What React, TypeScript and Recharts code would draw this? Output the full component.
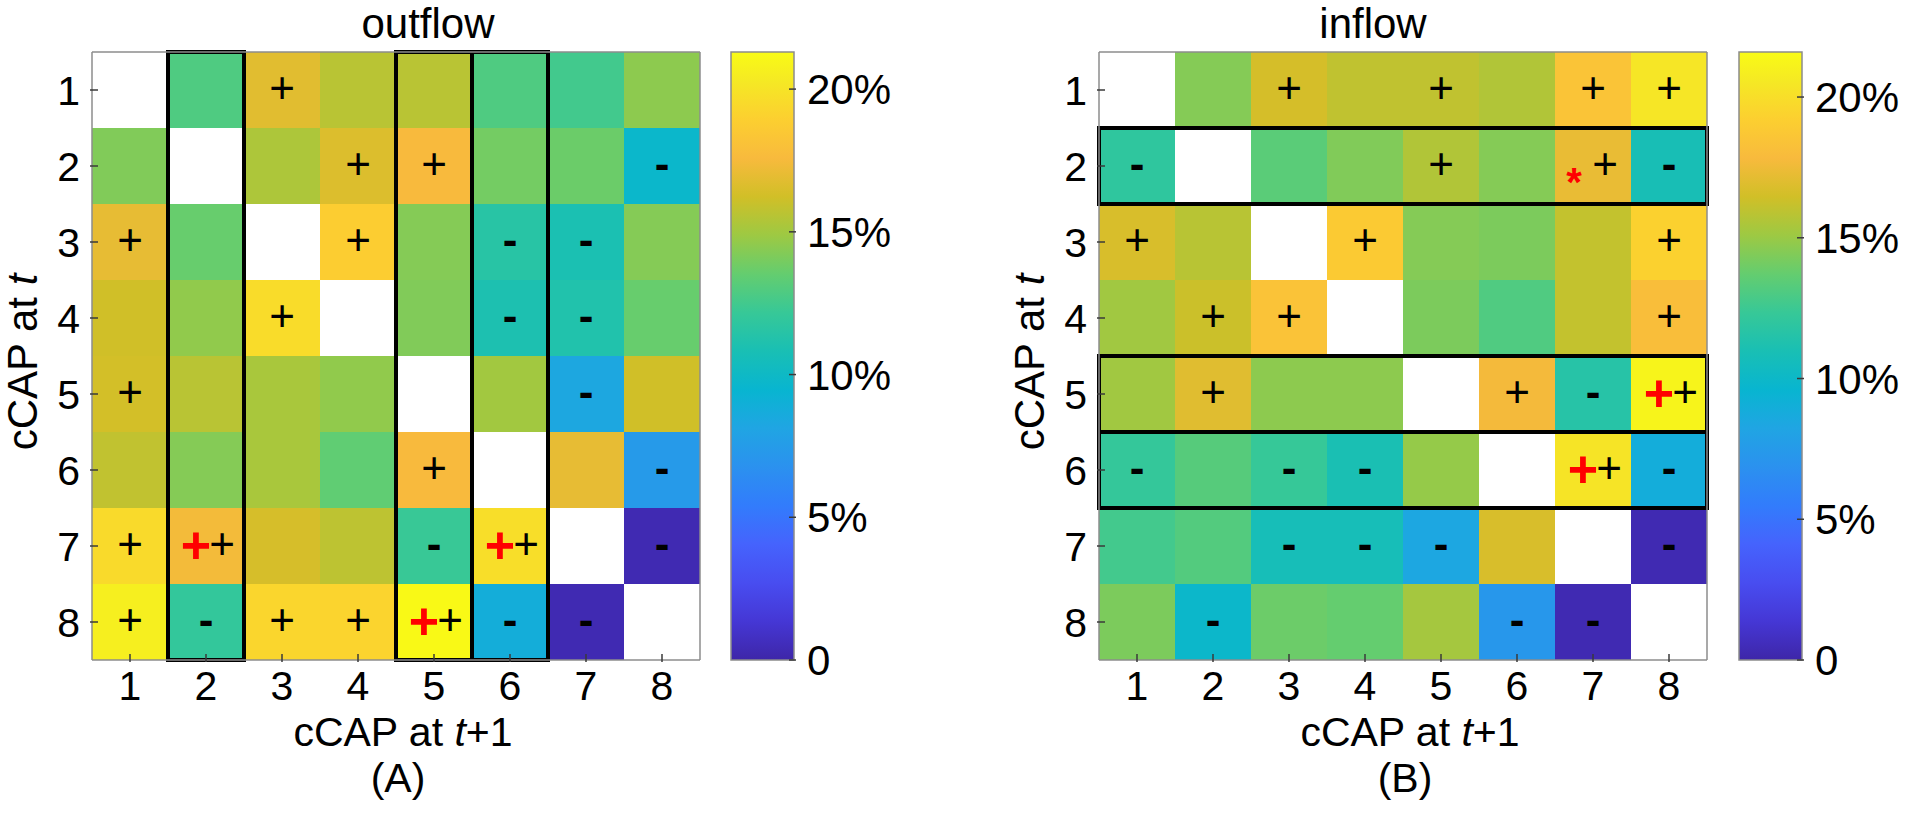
import React from "react";
import { ScatterChart, Scatter, BarChart, Bar, XAxis, YAxis, ReferenceArea, Label } from "recharts";

const cats = [1, 2, 3, 4, 5, 6, 7, 8];
const cbTicks = [0, 5, 10, 15, 20];

// outflow (%), rows = cCAP at t, cols = cCAP at t+1, diagonal left empty
const outflowValues = [
  [null, 12.9, 16.8, 15.6, 15.6, 12.9, 12.5, 14.5],
  [14.2, null, 15.3, 16.6, 17.6, 13.9, 13.7, 9.7],
  [17.0, 13.6, null, 18.8, 14.3, 11.5, 10.9, 14.3],
  [16.2, 14.6, 19.6, null, 14.2, 11.0, 11.2, 13.6],
  [16.3, 15.6, 15.2, 14.6, null, 15.0, 8.3, 16.2],
  [15.8, 14.3, 15.2, 13.4, 17.6, null, 17.0, 7.4],
  [19.5, 17.4, 16.4, 15.7, 12.2, 19.7, null, 0.3],
  [20.6, 12.0, 19.3, 19.2, 21.2, 8.8, 0.3, null],
];
// "+" / "-" significance, "R" = red + with black +, "S" = red * with black +
const outflowMarks = [
  ["", "", "+", "", "", "", "", ""],
  ["", "", "", "+", "+", "", "", "-"],
  ["+", "", "", "+", "", "-", "-", ""],
  ["", "", "+", "", "", "-", "-", ""],
  ["+", "", "", "", "", "", "-", ""],
  ["", "", "", "", "+", "", "", "-"],
  ["+", "R", "", "", "-", "R", "", "-"],
  ["+", "-", "+", "+", "R", "-", "-", ""],
];
const outflowBoxCols = [2, 5, 6];
const outflowMax = 21.3;

const inflowValues = [
  [null, 14.5, 16.6, 16.0, 16.0, 15.6, 18.5, 20.4],
  [12.0, null, 13.4, 14.4, 15.6, 14.5, 17.3, 10.9],
  [16.7, 15.8, null, 18.9, 14.5, 14.3, 16.1, 19.3],
  [15.2, 16.3, 18.4, null, 14.3, 13.1, 16.1, 18.1],
  [15.2, 17.0, 14.7, 14.7, null, 17.7, 11.6, 21.2],
  [12.2, 13.3, 12.3, 11.0, 14.9, null, 20.3, 8.9],
  [12.7, 13.2, 10.8, 10.8, 8.4, 16.7, null, 0.3],
  [14.3, 9.9, 13.9, 13.7, 15.3, 7.3, 0.3, null],
];
const inflowMarks = [
  ["", "", "+", "", "+", "", "+", "+"],
  ["-", "", "", "", "+", "", "S", "-"],
  ["+", "", "", "+", "", "", "", "+"],
  ["", "+", "+", "", "", "", "", "+"],
  ["", "+", "", "", "", "+", "-", "R"],
  ["-", "", "-", "-", "", "", "R", "-"],
  ["", "", "-", "-", "-", "", "", "-"],
  ["", "-", "", "", "", "-", "-", ""],
];
const inflowBoxRows = [2, 5, 6];
const inflowMax = 21.6;

// parula colormap (every 4th entry of the 64-step map)
const PARULA = [
  [62, 38, 168], [69, 55, 213], [72, 77, 240], [69, 99, 253], [50, 124, 252],
  [43, 145, 239], [32, 165, 227], [8, 181, 208], [25, 191, 180], [55, 200, 151],
  [100, 205, 111], [157, 201, 67], [209, 191, 39], [248, 186, 61], [252, 207, 48],
  [245, 233, 36], [249, 251, 21],
];
const PARULA_POS = [0, 4, 8, 12, 16, 20, 24, 28, 32, 36, 40, 44, 48, 52, 56, 60, 63].map((i) => i / 63);

const parula = (t: number) => {
  const u = Math.max(0, Math.min(1, t));
  let i = 0;
  while (i < PARULA_POS.length - 2 && u > PARULA_POS[i + 1]) i++;
  const f = (u - PARULA_POS[i]) / (PARULA_POS[i + 1] - PARULA_POS[i]);
  const c = PARULA[i].map((v, k) => Math.round(v + (PARULA[i + 1][k] - v) * f));
  return `rgb(${c[0]},${c[1]},${c[2]})`;
};

const FONT = "'Liberation Sans', Arial, Helvetica, sans-serif";
const FS = 41;
const AXIS_GRAY = "#8c8c8c";
const TICK = "#3a3a3a";
const TL = 8;
const CELL = 76;

const toCells = (vals: (number | null)[][], marks: string[][]) =>
  vals.flatMap((row, r) => row.map((v, c) => ({ x: cats[c], y: cats[r], v, m: marks[r][c] })));

const plusProps = { fontFamily: FONT, fontSize: 44, textAnchor: "middle" as const, fill: "#000" };

const renderMark = (m: string, cx: number, cy: number) => {
  if (m === "+") return <text x={cx} y={cy + 13} {...plusProps}>+</text>;
  if (m === "-")
    return (
      <text x={cx} y={cy + 13} {...plusProps} fontWeight="bold">
        -
      </text>
    );
  if (m === "R")
    return (
      <g>
        <text x={cx - 10} y={cy + 17} {...plusProps} fontSize={52} fontWeight="bold" fill="#ff0000">+</text>
        <text x={cx + 16} y={cy + 13} {...plusProps}>+</text>
      </g>
    );
  if (m === "S")
    return (
      <g>
        <text x={cx - 19} y={cy + 30} {...plusProps} fontSize={40} fontWeight="bold" fill="#ff0000">*</text>
        <text x={cx + 12} y={cy + 13} {...plusProps}>+</text>
      </g>
    );
  return null;
};

const cellShape = (max: number) => (props: any) => {
  const { cx, cy, payload } = props;
  if (payload.v == null) return <g />;
  return (
    <g>
      <rect x={cx - CELL / 2} y={cy - CELL / 2} width={CELL} height={CELL} fill={parula(payload.v / max)} shapeRendering="crispEdges" />
      {renderMark(payload.m, cx, cy)}
    </g>
  );
};

const BottomTick = (p: any) => (
  <g>
    <line x1={p.x} x2={p.x} y1={p.y} y2={p.y - TL} stroke={TICK} strokeWidth={1.5} />
    <text x={p.x} y={p.y + 38} textAnchor="middle" fontFamily={FONT} fontSize={FS} fill="#000">
      {p.payload.value}
    </text>
  </g>
);
const LeftTick = (p: any) => (
  <g>
    <line x1={p.x} x2={p.x + TL} y1={p.y} y2={p.y} stroke={TICK} strokeWidth={1.5} />
    <text x={p.x - 10} y={p.y + 15} textAnchor="end" fontFamily={FONT} fontSize={FS} fill="#000">
      {p.payload.value}
    </text>
  </g>
);
const TopTick = (p: any) => <line x1={p.x} x2={p.x} y1={p.y} y2={p.y + TL} stroke={TICK} strokeWidth={1.5} />;
const RightTick = (p: any) => <line x1={p.x} x2={p.x - TL} y1={p.y} y2={p.y} stroke={TICK} strokeWidth={1.5} />;
const CbTick = (p: any) => (
  <g>
    <line x1={p.x} x2={p.x - 7} y1={p.y} y2={p.y} stroke={TICK} strokeWidth={1.5} />
    <text x={p.x + 11} y={p.y + 15} fontFamily={FONT} fontSize={FS + 1} fill="#000">
      {p.payload.value === 0 ? "0" : `${p.payload.value}%`}
    </text>
  </g>
);

const axisLine = { stroke: AXIS_GRAY, strokeWidth: 1.5 };
const AXIS_Z = 900;

function Heatmap(props: {
  title: string;
  tag: string;
  values: (number | null)[][];
  marks: string[][];
  max: number;
  boxCols?: number[];
  boxRows?: number[];
  leftW: number;
  titleDx: number;
}) {
  const { title, tag, values, marks, max, boxCols = [], boxRows = [], leftW, titleDx } = props;
  const data = toCells(values, marks);
  const extra: any = { zIndex: AXIS_Z };
  return (
    <ScatterChart width={leftW + 608 + 12} height={816} margin={{ top: 0, right: 0, bottom: 0, left: 0 }}>
      <Scatter data={data} shape={cellShape(max)} isAnimationActive={false} {...({ zIndex: 50 } as any)} />
      {boxCols.map((c) => (
        <ReferenceArea key={"c" + c} x1={c - 0.5} x2={c + 0.5} y1={0.5} y2={8.5} fill="none" stroke="#000" strokeWidth={4} ifOverflow="visible" {...({ zIndex: 800 } as any)} />
      ))}
      {boxRows.map((r) => (
        <ReferenceArea key={"r" + r} x1={0.5} x2={8.5} y1={r - 0.5} y2={r + 0.5} fill="none" stroke="#000" strokeWidth={4} ifOverflow="visible" {...({ zIndex: 800 } as any)} />
      ))}
      <XAxis dataKey="x" type="number" domain={[0.5, 8.5]} ticks={cats} height={156} tickSize={0} tickLine={false} axisLine={axisLine} tick={BottomTick} interval={0} {...extra}>
        <Label
          content={(p: any) => {
            const { x, y, width } = p.viewBox;
            return (
              <g fontFamily={FONT} fontSize={FS} textAnchor="middle" fill="#000">
                <text x={x + width / 2 + 7} y={y + 86}>
                  cCAP at <tspan fontStyle="italic">t</tspan>+1
                </text>
                <text x={x + width / 2 + 2} y={y + 132}>({tag})</text>
              </g>
            );
          }}
        />
      </XAxis>
      <XAxis xAxisId="top" orientation="top" type="number" domain={[0.5, 8.5]} ticks={cats} height={52} tickSize={0} tickLine={false} axisLine={axisLine} tick={TopTick} interval={0} {...extra}>
        <Label
          content={(p: any) => {
            const { x, width } = p.viewBox;
            return (
              <text x={x + width / 2 + titleDx} y={38} fontFamily={FONT} fontSize={FS + 1} textAnchor="middle" fill="#000">
                {title}
              </text>
            );
          }}
        />
      </XAxis>
      <YAxis dataKey="y" type="number" domain={[0.5, 8.5]} ticks={cats} reversed width={leftW} tickSize={0} tickLine={false} axisLine={axisLine} tick={LeftTick} interval={0} {...extra}>
        <Label
          content={(p: any) => {
            const { x, y, width, height } = p.viewBox;
            const lx = x + width - 55;
            const ly = y + height / 2 + 6;
            return (
              <text x={lx} y={ly} transform={`rotate(-90, ${lx}, ${ly})`} fontFamily={FONT} fontSize={FS + 1} textAnchor="middle" fill="#000">
                cCAP at <tspan fontStyle="italic">t</tspan>
              </text>
            );
          }}
        />
      </YAxis>
      <YAxis yAxisId="right" orientation="right" type="number" domain={[0.5, 8.5]} ticks={cats} reversed width={12} tickSize={0} tickLine={false} axisLine={axisLine} tick={RightTick} interval={0} {...extra} />
    </ScatterChart>
  );
}

function ColorBar({ max, id, width }: { max: number; id: string; width: number }) {
  const data = [{ name: "cb", v: max }];
  return (
    <BarChart width={width} height={816} data={data} margin={{ top: 52, right: 0, bottom: 156, left: 31 }} barCategoryGap={0}>
      <defs>
        <linearGradient id={id} x1="0" y1="1" x2="0" y2="0">
          {PARULA.map((c, i) => (
            <stop key={i} offset={PARULA_POS[i]} stopColor={`rgb(${c[0]},${c[1]},${c[2]})`} />
          ))}
        </linearGradient>
      </defs>
      <XAxis dataKey="name" hide />
      <YAxis type="number" domain={[0, max]} ticks={cbTicks} orientation="right" width={width - 31 - 63} tickSize={0} tickLine={false} axisLine={false} tick={CbTick} interval={0} {...({ zIndex: AXIS_Z } as any)} />
      <Bar dataKey="v" fill={`url(#${id})`} stroke={AXIS_GRAY} strokeWidth={1.5} isAnimationActive={false} />
    </BarChart>
  );
}

export default function App() {
  return (
    <div style={{ position: "absolute", left: 0, top: 0, width: 1920, height: 816, background: "#fff", overflow: "hidden" }}>
      <div style={{ position: "absolute", left: 0, top: 0 }}>
        <Heatmap title="outflow" tag="A" values={outflowValues} marks={outflowMarks} max={outflowMax} boxCols={outflowBoxCols} leftW={92} titleDx={32} />
      </div>
      <div style={{ position: "absolute", left: 700, top: 0 }}>
        <ColorBar max={outflowMax} id="parulaA" width={260} />
      </div>
      <div style={{ position: "absolute", left: 960, top: 0 }}>
        <Heatmap title="inflow" tag="B" values={inflowValues} marks={inflowMarks} max={inflowMax} boxRows={inflowBoxRows} leftW={139} titleDx={-30} />
      </div>
      <div style={{ position: "absolute", left: 1708, top: 0 }}>
        <ColorBar max={inflowMax} id="parulaB" width={212} />
      </div>
    </div>
  );
}
